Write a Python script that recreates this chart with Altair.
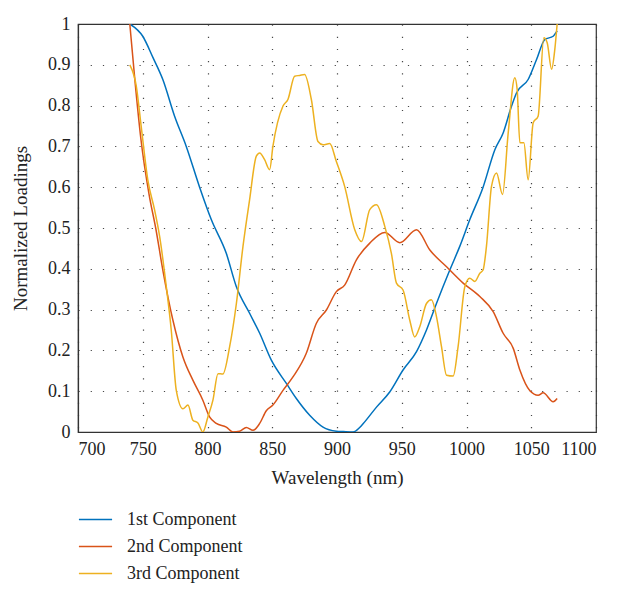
import altair as alt
import pandas as pd

x1 = [740, 750, 758, 765.5, 774.6, 783.6, 793.9, 803, 814.5, 822.3, 832.5, 840.3, 849.3, 860.9, 868.6, 878.9, 889.2, 899.5, 905, 912.4, 917.5, 920.1, 930.5, 940.7, 951, 961.4, 969.1, 976.8, 987.1, 994.8, 1002.5, 1012.8, 1021.9, 1028.3, 1034.8, 1038.6, 1047.6, 1054.1, 1060.5, 1066.9, 1070]
y1 = [1.0, 0.97, 0.917, 0.864, 0.774, 0.70, 0.60, 0.52, 0.438, 0.356, 0.291, 0.242, 0.176, 0.119, 0.082, 0.041, 0.012, 0.002, 0.001, 0.0, 0.011, 0.02, 0.061, 0.098, 0.152, 0.197, 0.25, 0.315, 0.397, 0.455, 0.52, 0.60, 0.692, 0.733, 0.799, 0.831, 0.864, 0.913, 0.962, 0.97, 0.983]

x2 = [740, 744, 748.5, 755, 760, 765.5, 773.3, 781, 788.7, 796.4, 801.6, 806.8, 814.5, 819.6, 824.8, 830, 835.1, 840.3, 845.4, 850.5, 858.3, 866, 876.3, 884, 891.8, 899.5, 905.9, 915, 925.3, 936.9, 948.5, 961.4, 971.7, 984.6, 997.4, 1010.3, 1020.6, 1028.3, 1036.1, 1041.2, 1049, 1055.3, 1059.2, 1066.9, 1070]
y2 = [1.0, 0.86, 0.72, 0.58, 0.50, 0.397, 0.274, 0.184, 0.127, 0.078, 0.037, 0.021, 0.012, 0.0, 0.002, 0.011, 0.004, 0.021, 0.052, 0.066, 0.102, 0.135, 0.193, 0.266, 0.299, 0.344, 0.36, 0.422, 0.463, 0.489, 0.464, 0.496, 0.446, 0.405, 0.365, 0.332, 0.295, 0.242, 0.205, 0.152, 0.101, 0.09, 0.096, 0.074, 0.082]

x3 = [740, 745, 748.8, 753.9, 759.1, 763, 768.2, 772, 775.9, 781, 784.9, 788.7, 792.6, 796.4, 800.3, 804.2, 808.1, 811.9, 817.1, 822.3, 827.4, 832.5, 837.7, 840.3, 844, 848, 850.5, 858.3, 862.1, 867.3, 871.2, 875, 880.2, 885.3, 889.2, 894.4, 899.5, 905.9, 913.7, 918.9, 925.3, 930.5, 936.9, 942, 945.9, 951, 956.2, 960, 963.9, 969.1, 972.9, 976.8, 980.7, 984.6, 989.7, 993.5, 998.7, 1002.5, 1006.4, 1010.3, 1012.8, 1015.4, 1019.3, 1023.2, 1027.8, 1032.2, 1037.3, 1039.1, 1041.2, 1044.3, 1047.6, 1051.5, 1055.3, 1059.7, 1062.3, 1065.7, 1068.2, 1070]
y3 = [0.90, 0.848, 0.749, 0.618, 0.545, 0.48, 0.356, 0.25, 0.102, 0.057, 0.066, 0.029, 0.022, 0.0, 0.037, 0.078, 0.143, 0.142, 0.209, 0.315, 0.455, 0.569, 0.676, 0.684, 0.668, 0.643, 0.70, 0.799, 0.815, 0.872, 0.874, 0.876, 0.815, 0.712, 0.704, 0.707, 0.663, 0.602, 0.496, 0.467, 0.545, 0.557, 0.504, 0.438, 0.365, 0.348, 0.274, 0.233, 0.258, 0.315, 0.324, 0.283, 0.209, 0.139, 0.137, 0.209, 0.356, 0.377, 0.369, 0.389, 0.397, 0.455, 0.602, 0.635, 0.582, 0.733, 0.868, 0.84, 0.709, 0.709, 0.618, 0.758, 0.774, 0.966, 0.954, 0.889, 0.938, 1.0]

series_names = ["1st Component", "2nd Component", "3rd Component"]
colors = ["#0072BD", "#D95319", "#EDB120"]
x_ticks = [700, 750, 800, 850, 900, 950, 1000, 1050, 1100]
y_ticks = [0, 0.1, 0.2, 0.3, 0.4, 0.5, 0.6, 0.7, 0.8, 0.9, 1.0]

rows = []
for name, xs, ys in zip(series_names, [x1, x2, x3], [y1, y2, y3]):
    for i, (a, b) in enumerate(zip(xs, ys)):
        rows.append({"series": name, "wl": a, "val": b, "order": i})
df = pd.DataFrame(rows)

FONT = "Liberation Serif"

chart = alt.Chart(df).mark_line(strokeWidth=1.5, interpolate="monotone", clip=True).encode(
    x=alt.X("wl:Q", scale=alt.Scale(domain=[700, 1100], nice=False),
            axis=alt.Axis(values=x_ticks, title="Wavelength (nm)", grid=True,
                          format="d", labelPadding=8, titlePadding=10)),
    y=alt.Y("val:Q", scale=alt.Scale(domain=[0, 1], nice=False),
            axis=alt.Axis(values=y_ticks, title="Normalized Loadings", grid=True,
                          format=".1~f", labelPadding=8, titlePadding=17)),
    color=alt.Color("series:N", scale=alt.Scale(domain=series_names, range=colors),
                    legend=alt.Legend(title=None, orient="none", legendX=0, legendY=478,
                                      symbolType="stroke", symbolSize=1100,
                                      symbolStrokeWidth=1.5, labelFont=FONT,
                                      labelFontSize=18, labelColor="#222",
                                      rowPadding=-7, labelOffset=14, padding=0)),
    order="order:Q",
).properties(
    width=518, height=408,
    padding={"left": 70, "top": 16, "right": 14, "bottom": 154},
    autosize=alt.AutoSizeParams(type="none"),
).configure_view(
    stroke="#333", strokeWidth=1.2
).configure_axis(
    labelFont=FONT, titleFont=FONT, labelFontSize=18, titleFontSize=19,
    titleFontWeight="normal", labelColor="#222", titleColor="#222",
    domainColor="#333", domainWidth=1.2, ticks=False,
    gridColor="#333", gridDash=[1.2, 11], gridWidth=1.2, gridOpacity=0.9,
)

chart.save("out.html", embed_options={"renderer": "svg", "actions": False})
